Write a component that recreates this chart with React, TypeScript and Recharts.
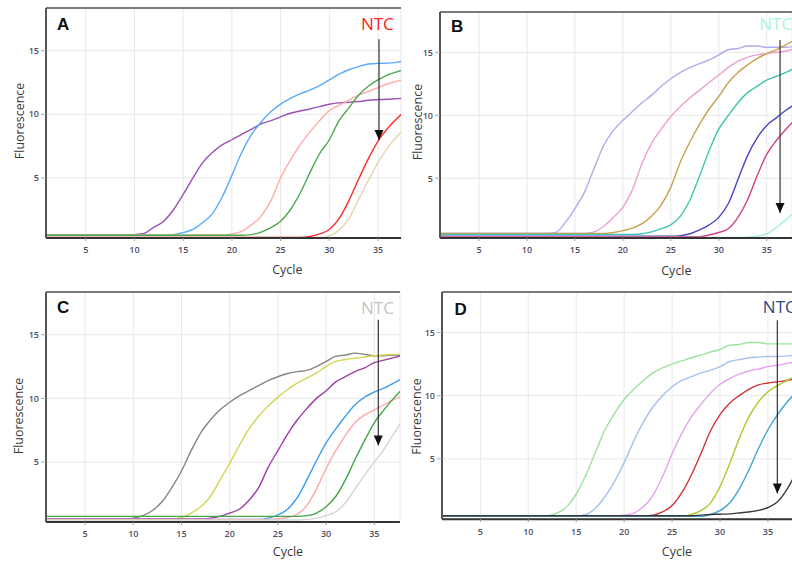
import {
  CartesianGrid,
  Line,
  LineChart,
  ReferenceDot,
  ReferenceLine,
  XAxis,
  YAxis,
} from "recharts";

// cycle numbers shared by every curve
const CYCLES = [
  1, 2, 3, 4, 5, 6, 7, 8, 9, 10, 11, 12, 13, 14, 15, 16, 17, 18, 19, 20,
  21, 22, 23, 24, 25, 26, 27, 28, 29, 30, 31, 32, 33, 34, 35, 36, 37, 38,
];
const X_TICKS = [5, 10, 15, 20, 25, 30, 35];
const Y_TICKS = [5, 10, 15];

// ---- panel A ----
const A_PURPLE = [
  0.5, 0.5, 0.5, 0.5, 0.5, 0.5, 0.5, 0.5, 0.5, 0.55,
  0.65, 1.13, 1.6, 2.5, 3.7, 5.0, 6.2, 7.0, 7.6, 8.0,
  8.43, 8.82, 9.24, 9.5, 9.8, 10.08, 10.26, 10.42, 10.6, 10.79,
  10.9, 10.94, 11.0, 11.1, 11.15, 11.18, 11.23, 11.25,
];
const A_BLUE = [
  0.5, 0.5, 0.5, 0.5, 0.5, 0.5, 0.5, 0.5, 0.5, 0.5,
  0.5, 0.5, 0.5, 0.55, 0.7, 0.95, 1.5, 2.2, 3.5, 5.2,
  7.0, 8.4, 9.4, 10.2, 10.8, 11.25, 11.6, 11.9, 12.25, 12.7,
  13.15, 13.5, 13.75, 13.95, 14.0, 14.02, 14.1, 14.25,
];
const A_SALMON = [
  0.5, 0.5, 0.5, 0.5, 0.5, 0.5, 0.5, 0.5, 0.5, 0.5,
  0.5, 0.5, 0.5, 0.5, 0.5, 0.5, 0.5, 0.5, 0.5, 0.6,
  0.8, 1.3, 2.0, 3.2, 5.0, 6.4, 7.6, 8.6, 9.5, 10.3,
  10.7, 11.1, 11.5, 11.8, 12.1, 12.4, 12.6, 12.8,
];
const A_GREEN = [
  0.5, 0.5, 0.5, 0.5, 0.5, 0.5, 0.5, 0.5, 0.5, 0.5,
  0.5, 0.5, 0.5, 0.5, 0.5, 0.5, 0.5, 0.5, 0.5, 0.5,
  0.5, 0.55, 0.75, 1.1, 1.6, 2.5, 3.8, 5.4, 6.9, 8.0,
  9.5, 10.5, 11.5, 12.2, 12.7, 13.1, 13.35, 13.6,
];
const A_RED = [
  0.32, 0.32, 0.32, 0.32, 0.32, 0.32, 0.32, 0.32, 0.32, 0.32,
  0.32, 0.32, 0.32, 0.32, 0.32, 0.32, 0.32, 0.32, 0.32, 0.32,
  0.32, 0.32, 0.32, 0.32, 0.32, 0.32, 0.32, 0.4, 0.6, 0.95,
  1.8, 3.2, 4.9, 6.5, 7.9, 8.9, 9.7, 10.4,
];
const A_TAN = [
  0.32, 0.32, 0.32, 0.32, 0.32, 0.32, 0.32, 0.32, 0.32, 0.32,
  0.32, 0.32, 0.32, 0.32, 0.32, 0.32, 0.32, 0.32, 0.32, 0.32,
  0.32, 0.32, 0.32, 0.32, 0.32, 0.32, 0.32, 0.32, 0.32, 0.45,
  0.9, 1.8, 3.3, 4.8, 6.2, 7.4, 8.3, 9.0,
];

// ---- panel B ----
const B_PLUM = [
  0.3, 0.3, 0.3, 0.3, 0.3, 0.3, 0.3, 0.3, 0.3, 0.3,
  0.3, 0.3, 0.3, 0.3, 0.3, 0.3, 0.3, 0.3, 0.3, 0.3,
  0.3, 0.3, 0.3, 0.3, 0.3, 0.3, 0.3,
];
const B_LAVENDER = [
  0.63, 0.63, 0.63, 0.63, 0.63, 0.63, 0.63, 0.63, 0.63, 0.63,
  0.63, 0.63, 0.7, 1.5, 2.6, 3.9, 5.8, 7.6, 8.8, 9.6,
  10.3, 11.0, 11.6, 12.3, 12.9, 13.4, 13.8, 14.1, 14.4, 14.8,
  15.2, 15.3, 15.5, 15.5, 15.4, 15.4, 15.4, 15.5,
];
const B_PINK = [
  0.63, 0.63, 0.63, 0.63, 0.63, 0.63, 0.63, 0.63, 0.63, 0.63,
  0.63, 0.63, 0.63, 0.63, 0.63, 0.63, 0.75, 1.2, 1.9, 2.7,
  4.1, 6.2, 7.8, 8.9, 9.9, 10.7, 11.4, 12.0, 12.6, 13.2,
  13.8, 14.3, 14.6, 14.8, 14.9, 15.0, 15.1, 15.3,
];
const B_GOLD = [
  0.63, 0.63, 0.63, 0.63, 0.63, 0.63, 0.63, 0.63, 0.63, 0.63,
  0.63, 0.63, 0.63, 0.63, 0.63, 0.63, 0.63, 0.63, 0.7, 0.85,
  1.05, 1.4, 2.0, 2.9, 4.3, 6.3, 7.9, 9.3, 10.5, 11.5,
  12.6, 13.4, 14.0, 14.5, 14.9, 15.2, 15.6, 16.0,
];
const B_TEAL = [
  0.55, 0.55, 0.55, 0.55, 0.55, 0.55, 0.55, 0.55, 0.55, 0.55,
  0.55, 0.55, 0.55, 0.55, 0.55, 0.55, 0.55, 0.55, 0.55, 0.55,
  0.55, 0.6, 0.75, 1.0, 1.3, 2.0, 3.3, 5.2, 7.2, 8.9,
  10.0, 11.0, 11.8, 12.3, 12.8, 13.1, 13.4, 13.8,
];
const B_NAVY = [
  0.4, 0.4, 0.4, 0.4, 0.4, 0.4, 0.4, 0.4, 0.4, 0.4,
  0.4, 0.4, 0.4, 0.4, 0.4, 0.4, 0.4, 0.4, 0.4, 0.4,
  0.4, 0.4, 0.4, 0.4, 0.4, 0.45, 0.6, 0.9, 1.3, 1.9,
  3.0, 4.9, 6.8, 8.2, 9.2, 9.8, 10.4, 10.9,
];
const B_MAGENTA = [
  0.37, 0.37, 0.37, 0.37, 0.37, 0.37, 0.37, 0.37, 0.37, 0.37,
  0.37, 0.37, 0.37, 0.37, 0.37, 0.37, 0.37, 0.37, 0.37, 0.37,
  0.37, 0.37, 0.37, 0.37, 0.37, 0.37, 0.37, 0.37, 0.5, 0.7,
  1.0, 1.9, 3.3, 5.2, 6.9, 8.0, 8.9, 9.7,
];
const B_AQUA = [
  0.3, 0.3, 0.3, 0.3, 0.3, 0.3, 0.3, 0.3, 0.3, 0.3,
  0.3, 0.3, 0.3, 0.3, 0.3, 0.3, 0.3, 0.3, 0.3, 0.3,
  0.3, 0.3, 0.3, 0.3, 0.3, 0.3, 0.3, 0.3, 0.3, 0.3,
  0.3, 0.3, 0.32, 0.4, 0.6, 1.1, 1.7, 2.4,
];

// ---- panel C ----
const C_GRAY = [
  0.53, 0.53, 0.53, 0.53, 0.53, 0.53, 0.53, 0.53, 0.53, 0.6,
  0.8, 1.2, 1.9, 3.0, 4.3, 5.9, 7.3, 8.3, 9.1, 9.7,
  10.2, 10.6, 11.0, 11.4, 11.7, 11.95, 12.1, 12.2, 12.5, 12.9,
  13.3, 13.4, 13.55, 13.45, 13.35, 13.35, 13.4, 13.4,
];
const C_YELLOW = [
  0.53, 0.53, 0.53, 0.53, 0.53, 0.53, 0.53, 0.53, 0.53, 0.53,
  0.53, 0.53, 0.53, 0.53, 0.65, 1.0, 1.5, 2.3, 3.6, 4.9,
  6.3, 7.6, 8.6, 9.4, 10.1, 10.7, 11.2, 11.6, 12.0, 12.5,
  12.9, 13.05, 13.15, 13.25, 13.35, 13.4, 13.45, 13.45,
];
const C_PURPLE = [
  0.53, 0.53, 0.53, 0.53, 0.53, 0.53, 0.53, 0.53, 0.53, 0.53,
  0.53, 0.53, 0.53, 0.53, 0.53, 0.53, 0.53, 0.6, 0.75, 1.0,
  1.3, 2.0, 3.0, 4.6, 5.9, 7.2, 8.3, 9.2, 10.0, 10.6,
  11.3, 11.7, 12.1, 12.4, 12.8, 13.0, 13.2, 13.4,
];
const C_BLUE = [
  0.5, 0.5, 0.5, 0.5, 0.5, 0.5, 0.5, 0.5, 0.5, 0.5,
  0.5, 0.5, 0.5, 0.5, 0.5, 0.5, 0.5, 0.5, 0.5, 0.5,
  0.5, 0.5, 0.5, 0.6, 0.85, 1.3, 2.2, 3.6, 5.1, 6.5,
  7.6, 8.6, 9.5, 10.1, 10.5, 10.8, 11.2, 11.6,
];
const C_SALMON = [
  0.5, 0.5, 0.5, 0.5, 0.5, 0.5, 0.5, 0.5, 0.5, 0.5,
  0.5, 0.5, 0.5, 0.5, 0.5, 0.5, 0.5, 0.5, 0.5, 0.5,
  0.5, 0.5, 0.5, 0.5, 0.55, 0.65, 0.9, 1.6, 2.9, 4.5,
  5.9, 7.1, 8.1, 8.7, 9.1, 9.5, 9.9, 10.2,
];
const C_GREEN = [
  0.74, 0.74, 0.74, 0.74, 0.74, 0.74, 0.74, 0.74, 0.74, 0.74,
  0.74, 0.74, 0.74, 0.74, 0.74, 0.74, 0.74, 0.74, 0.74, 0.74,
  0.74, 0.74, 0.74, 0.74, 0.74, 0.74, 0.74, 0.8, 1.0, 1.5,
  2.3, 3.6, 5.2, 6.7, 8.1, 9.1, 10.0, 10.8,
];
const C_LTGRAY = [
  0.45, 0.45, 0.45, 0.45, 0.45, 0.45, 0.45, 0.45, 0.45, 0.45,
  0.45, 0.45, 0.45, 0.45, 0.45, 0.45, 0.45, 0.45, 0.45, 0.45,
  0.45, 0.45, 0.45, 0.45, 0.45, 0.45, 0.45, 0.5, 0.6, 0.8,
  1.1, 1.8, 2.9, 4.0, 5.0, 6.0, 7.2, 8.4,
];

// ---- panel D ----
const D_LTGREEN = [
  0.5, 0.5, 0.5, 0.5, 0.5, 0.5, 0.5, 0.5, 0.5, 0.5,
  0.5, 0.5, 0.7, 1.2, 2.2, 3.7, 5.5, 7.3, 8.6, 9.7,
  10.5, 11.2, 11.8, 12.2, 12.5, 12.75, 13.0, 13.2, 13.45, 13.65,
  14.0, 14.05, 14.2, 14.2, 14.1, 14.1, 14.1, 14.1,
];
const D_LTBLUE = [
  0.5, 0.5, 0.5, 0.5, 0.5, 0.5, 0.5, 0.5, 0.5, 0.5,
  0.5, 0.5, 0.5, 0.5, 0.5, 0.6, 1.1, 2.0, 3.2, 4.7,
  6.4, 7.9, 9.1, 10.0, 10.7, 11.2, 11.5, 11.8, 12.0, 12.3,
  12.7, 12.85, 13.0, 13.05, 13.1, 13.1, 13.15, 13.2,
];
const D_VIOLET = [
  0.5, 0.5, 0.5, 0.5, 0.5, 0.5, 0.5, 0.5, 0.5, 0.5,
  0.5, 0.5, 0.5, 0.5, 0.5, 0.5, 0.5, 0.5, 0.5, 0.55,
  0.7, 1.2, 2.1, 3.6, 5.4, 7.0, 8.3, 9.3, 10.2, 10.9,
  11.35, 11.7, 11.95, 12.1, 12.3, 12.4, 12.55, 12.7,
];
const D_RED = [
  0.5, 0.5, 0.5, 0.5, 0.5, 0.5, 0.5, 0.5, 0.5, 0.5,
  0.5, 0.5, 0.5, 0.5, 0.5, 0.5, 0.5, 0.5, 0.5, 0.5,
  0.5, 0.5, 0.55, 0.8, 1.3, 2.3, 3.7, 5.4, 7.2, 8.5,
  9.4, 10.0, 10.5, 10.85, 11.0, 11.1, 11.2, 11.35,
];
const D_YELLOWGREEN = [
  0.45, 0.45, 0.45, 0.45, 0.45, 0.45, 0.45, 0.45, 0.45, 0.45,
  0.45, 0.45, 0.45, 0.45, 0.45, 0.45, 0.45, 0.45, 0.45, 0.45,
  0.45, 0.45, 0.45, 0.45, 0.45, 0.45, 0.6, 0.9, 1.5, 2.8,
  4.6, 6.6, 8.3, 9.5, 10.3, 10.8, 11.2, 11.6,
];
const D_SKY = [
  0.45, 0.45, 0.45, 0.45, 0.45, 0.45, 0.45, 0.45, 0.45, 0.45,
  0.45, 0.45, 0.45, 0.45, 0.45, 0.45, 0.45, 0.45, 0.45, 0.45,
  0.45, 0.45, 0.45, 0.45, 0.45, 0.45, 0.45, 0.45, 0.6, 0.9,
  1.5, 2.6, 4.1, 5.8, 7.3, 8.5, 9.5, 10.3,
];
const D_BLACK = [
  0.5, 0.5, 0.5, 0.5, 0.5, 0.5, 0.5, 0.5, 0.5, 0.5,
  0.5, 0.5, 0.5, 0.5, 0.5, 0.5, 0.5, 0.5, 0.5, 0.5,
  0.5, 0.5, 0.5, 0.5, 0.5, 0.5, 0.5, 0.55, 0.6, 0.62,
  0.65, 0.72, 0.8, 0.92, 1.15, 1.6, 2.6, 4.0,
];

type Series = { key: string; values: number[]; color: string };

type PanelCfg = {
  letter: string;
  letterDx: number;
  letterDy: number;
  x0: number;
  ppc: number;
  y0: number;
  ppu: number;
  xMin: number;
  xMax: number;
  yMin: number;
  yMax: number;
  series: Series[];
  ntcColor: string;
  ntcAt: [number, number];
  arrow: { x: number; top: number; tip: number };
  yLabelDx: number;
  yLabelDy: number;
  cycleDx: number;
  cycleDy: number;
};

const PANELS: PanelCfg[] = [
  {
    letter: "A", letterDx: 11, letterDy: 22.3,
    x0: 37.0, ppc: 9.743, y0: 241.65, ppu: 12.73,
    xMin: 0.92, xMax: 37.36, yMin: 0.29, yMax: 18.35,
    series: [
      { key: "a1", values: A_PURPLE, color: "#9b50b4" },
      { key: "a2", values: A_BLUE, color: "#5aabff" },
      { key: "a3", values: A_SALMON, color: "#ffaba6" },
      { key: "a4", values: A_GREEN, color: "#4aaa4a" },
      { key: "a5", values: A_TAN, color: "#e6d4ae" },
      { key: "a6", values: A_RED, color: "#ff2b2b" },
    ],
    ntcColor: "#ff1a1a", ntcAt: [33.25, 16.63],
    arrow: { x: 35.1, top: 15.9, tip: 7.98 },
    yLabelDx: -26.7, yLabelDy: -2, cycleDx: 241.3, cycleDy: 36.5,
  },
  {
    letter: "B", letterDx: 11, letterDy: 20.3,
    x0: 431.05, ppc: 9.59, y0: 241.3, ppu: 12.6,
    xMin: 0.93, xMax: 37.64, yMin: 0.26, yMax: 18.2,
    series: [
      { key: "b0", values: B_PLUM, color: "#4d0c3e" },
      { key: "b1", values: B_LAVENDER, color: "#b3a9ee" },
      { key: "b2", values: B_PINK, color: "#ec9fd0" },
      { key: "b3", values: B_GOLD, color: "#c9a04e" },
      { key: "b4", values: B_TEAL, color: "#3fc7ad" },
      { key: "b5", values: B_NAVY, color: "#4646c6" },
      { key: "b6", values: B_MAGENTA, color: "#d23f87" },
      { key: "b7", values: B_AQUA, color: "#a6f0d6" },
    ],
    ntcColor: "#a8f5d5", ntcAt: [34.23, 16.77],
    arrow: { x: 36.39, top: 15.98, tip: 2.25 },
    yLabelDx: -23, yLabelDy: -3, cycleDx: 236.4, cycleDy: 36.5,
  },
  {
    letter: "C", letterDx: 10.9, letterDy: 21,
    x0: 36.8, ppc: 9.643, y0: 525.4, ppu: 12.74,
    xMin: 0.95, xMax: 37.66, yMin: 0.29, yMax: 18.35,
    series: [
      { key: "c1", values: C_GRAY, color: "#858585" },
      { key: "c2", values: C_YELLOW, color: "#d7d454" },
      { key: "c3", values: C_PURPLE, color: "#9d3da6" },
      { key: "c4", values: C_BLUE, color: "#3c9ff5" },
      { key: "c5", values: C_SALMON, color: "#ffa8a8" },
      { key: "c6", values: C_GREEN, color: "#44a644" },
      { key: "c7", values: C_LTGRAY, color: "#d4d4d4" },
    ],
    ntcColor: "#c4c4c4", ntcAt: [33.62, 16.65],
    arrow: { x: 35.41, top: 16.18, tip: 6.31 },
    yLabelDx: -27.2, yLabelDy: 9, cycleDx: 242, cycleDy: 34,
  },
  {
    letter: "D", letterDx: 12.6, letterDy: 22.7,
    x0: 432.8, ppc: 9.587, y0: 521.9, ppu: 12.64,
    xMin: 1.0, xMax: 37.7, yMin: 0.23, yMax: 18.2,
    series: [
      { key: "d1", values: D_LTGREEN, color: "#9ae39a" },
      { key: "d2", values: D_LTBLUE, color: "#a6c2ee" },
      { key: "d3", values: D_VIOLET, color: "#e79ff0" },
      { key: "d4", values: D_RED, color: "#cf3535" },
      { key: "d5", values: D_YELLOWGREEN, color: "#b0c934" },
      { key: "d6", values: D_SKY, color: "#3fa6d6" },
      { key: "d7", values: D_BLACK, color: "#3a3a3a" },
    ],
    ntcColor: "#2f4a7e", ntcAt: [34.47, 16.5],
    arrow: { x: 35.98, top: 15.97, tip: 2.26 },
    yLabelDx: -25.2, yLabelDy: 11, cycleDx: 235, cycleDy: 36.5,
  },
];

const FONT = "'Open Sans', 'DejaVu Sans', sans-serif";
const TICK = { fontSize: 9, fill: "#4d4d66", fontFamily: FONT, fontWeight: 600 };
const YW = 46; // y axis width
const MT = 10; // space above plot
const XH = 45; // x axis height
const MR = 4;

function toRows(values: number[]) {
  return values.map((v, i) => ({ c: CYCLES[i], v }));
}

function Panel({ cfg }: { cfg: PanelCfg }) {
  const L = cfg.x0 + cfg.xMin * cfg.ppc;
  const W = (cfg.xMax - cfg.xMin) * cfg.ppc;
  const T = cfg.y0 - cfg.yMax * cfg.ppu;
  const H = (cfg.yMax - cfg.yMin) * cfg.ppu;

  return (
    <div style={{ position: "absolute", left: L - YW, top: T - MT }}>
      <LineChart
        width={YW + W + MR}
        height={MT + H + XH}
        margin={{ top: MT, right: MR, bottom: 0, left: 0 }}
      >
        <CartesianGrid stroke="#e8e8e8" strokeWidth={1} />
        <XAxis
          dataKey="c"
          type="number"
          domain={[cfg.xMin, cfg.xMax]}
          ticks={X_TICKS}
          allowDataOverflow
          height={XH}
          tickSize={3}
          tickMargin={6}
          axisLine={{ stroke: "#333", strokeWidth: 2 }}
          tickLine={{ stroke: "#999" }}
          tick={TICK}
          label={(p: any) => (
            <text
              x={p.viewBox.x + cfg.cycleDx}
              y={p.viewBox.y + cfg.cycleDy}
              textAnchor="middle"
              fontSize={12.5}
              fontFamily={FONT}
              fill="#3a3a3a"
            >
              Cycle
            </text>
          )}
        />
        <YAxis
          type="number"
          domain={[cfg.yMin, cfg.yMax]}
          ticks={Y_TICKS}
          allowDataOverflow
          width={YW}
          tickSize={5}
          tickMargin={2}
          axisLine={{ stroke: "#555", strokeWidth: 2 }}
          tickLine={{ stroke: "#aaa" }}
          tick={TICK}
          label={(p: any) => {
            const cx = p.viewBox.x + p.viewBox.width + cfg.yLabelDx;
            const cy = p.viewBox.y + p.viewBox.height / 2 + cfg.yLabelDy;
            return (
              <text
                x={cx}
                y={cy}
                transform={`rotate(-90, ${cx}, ${cy})`}
                textAnchor="middle"
                dominantBaseline="central"
                fontSize={12.5}
                fontFamily={FONT}
                fill="#3a3a3a"
              >
                Fluorescence
              </text>
            );
          }}
        />
        <ReferenceLine y={cfg.yMax} stroke="#7a7a7a" strokeWidth={2} ifOverflow="visible" />
        {cfg.series.map((s) => (
          <Line
            key={s.key}
            data={toRows(s.values)}
            dataKey="v"
            type="monotone"
            stroke={s.color}
            strokeWidth={1.4}
            dot={false}
            activeDot={false}
            isAnimationActive={false}
          />
        ))}
        <ReferenceLine
          segment={[
            { x: cfg.arrow.x, y: cfg.arrow.top },
            { x: cfg.arrow.x, y: cfg.arrow.tip },
          ]}
          stroke="#333"
          strokeWidth={1.2}
          ifOverflow="visible"
        />
        <ReferenceDot
          x={cfg.arrow.x}
          y={cfg.arrow.tip}
          ifOverflow="visible"
          shape={(p: any) => (
            <path
              d={`M${p.cx - 4.5},${p.cy - 10} L${p.cx + 4.5},${p.cy - 10} L${p.cx},${p.cy} Z`}
              fill="#111"
            />
          )}
        />
        <ReferenceDot
          x={cfg.ntcAt[0]}
          y={cfg.ntcAt[1]}
          ifOverflow="visible"
          shape={(p: any) => (
            <text x={p.cx} y={p.cy} fontSize={17} fontFamily={FONT} fill={cfg.ntcColor}>
              NTC
            </text>
          )}
        />
        <ReferenceDot
          x={cfg.xMin}
          y={cfg.yMax}
          ifOverflow="visible"
          shape={(p: any) => (
            <text
              x={p.cx + cfg.letterDx}
              y={p.cy + cfg.letterDy}
              fontSize={17}
              fontWeight="bold"
              fontFamily="'Liberation Sans', Arial, sans-serif"
              fill="#111"
            >
              {cfg.letter}
            </text>
          )}
        />
      </LineChart>
    </div>
  );
}

export default function App() {
  return (
    <div
      style={{
        position: "absolute",
        left: 0,
        top: 0,
        width: 792,
        height: 563,
        overflow: "hidden",
        background: "#fff",
      }}
    >
      {PANELS.map((p) => (
        <Panel key={p.letter} cfg={p} />
      ))}
    </div>
  );
}
